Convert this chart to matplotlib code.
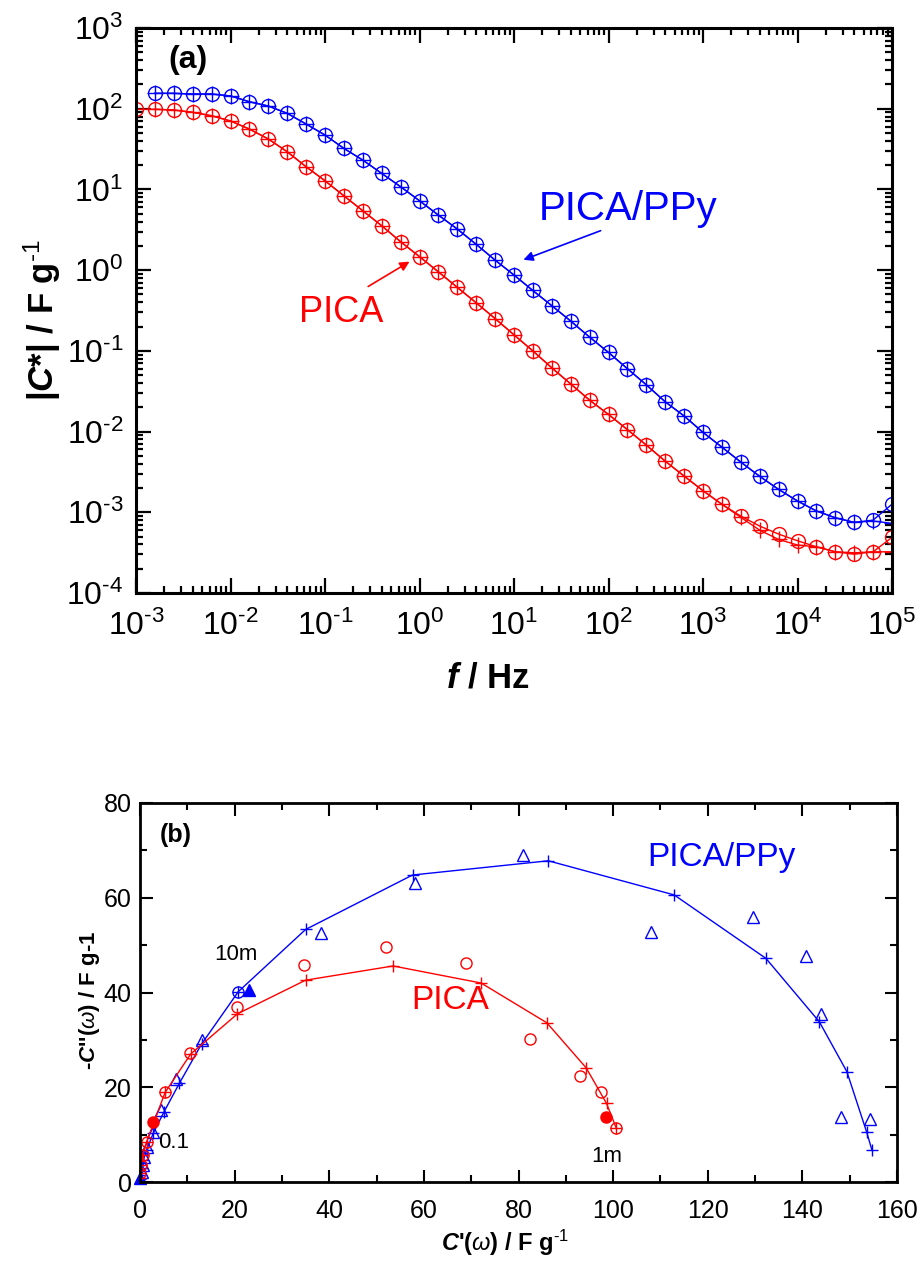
import numpy as np
import matplotlib
matplotlib.use("Agg")
import matplotlib.pyplot as plt
from matplotlib.ticker import LogLocator, FuncFormatter, MultipleLocator, NullFormatter

plt.rcParams['font.family'] = ['Liberation Sans', 'DejaVu Sans']
plt.rcParams['mathtext.fontset'] = 'custom'
plt.rcParams['mathtext.rm'] = 'Liberation Sans'
plt.rcParams['mathtext.it'] = 'Liberation Sans:italic'
plt.rcParams['mathtext.bf'] = 'Liberation Sans:bold'
plt.rcParams['mathtext.bfit'] = 'Liberation Sans:bold:italic'
plt.rcParams['mathtext.default'] = 'regular'
plt.rcParams['axes.unicode_minus'] = False

BLUE = '#0000FF'
RED = '#FF0000'

# ---------------- panel (a): |C*| vs frequency ----------------
freq_red = [1e-3, 1.58e-3, 2.51e-3, 3.98e-3, 6.31e-3, 1e-2, 1.58e-2, 2.51e-2, 3.98e-2, 6.31e-2,
            1e-1, 1.58e-1, 2.51e-1, 3.98e-1, 6.31e-1, 1e0, 1.58e0, 2.51e0, 3.98e0, 6.31e0,
            1e1, 1.58e1, 2.51e1, 3.98e1, 6.31e1, 1e2, 1.58e2, 2.51e2, 3.98e2, 6.31e2,
            1e3, 1.58e3, 2.51e3, 3.98e3, 6.31e3, 1e4, 1.58e4, 2.51e4, 3.98e4, 6.31e4, 1e5]
freq_blue = freq_red[1:]

# measured (circles)
pica_meas = [98.4, 98.4, 96.4, 90.2, 81.8, 70.5, 56.0, 42.2, 29.3, 19.1,
             12.8, 8.36, 5.44, 3.55, 2.25, 1.47, 0.955, 0.612, 0.394, 0.251,
             0.158, 0.100, 0.0617, 0.0389, 0.0245, 0.0163, 0.0106, 0.00681, 0.00430, 0.00281,
             0.00185, 0.00126, 0.000897, 0.000675, 0.000537, 0.000444, 0.000374, 0.000324, 0.000303, 0.000324,
             0.000489]
# fitted (plus)
pica_fit = [None, 98.4, 96.4, 90.2, 81.8, 70.5, 56.0, 42.2, 29.3, 19.1,
            12.8, 8.36, 5.44, 3.55, 2.25, 1.47, 0.955, 0.612, 0.394, 0.251,
            0.158, 0.100, 0.0617, 0.0389, 0.0245, 0.0163, 0.0106, 0.00681, 0.00430, 0.00281,
            0.00185, 0.00126, 0.000865, 0.000601, 0.000461, 0.000393, 0.000374, 0.000324, 0.000315, 0.000324,
            0.000324]

ppy_meas = [155, 155, 152, 152, 144, 122, 108, 87.7, 64.6, 47.2,
            32.3, 23.1, 15.8, 10.8, 7.24, 4.82, 3.23, 2.09, 1.33, 0.87,
            0.56, 0.363, 0.234, 0.148, 0.0955, 0.0603, 0.038, 0.0234, 0.0156, 0.00977,
            0.00643, 0.00419, 0.00279, 0.00192, 0.00138, 0.00104, 0.000855, 0.00075, 0.0008, 0.00126]
ppy_fit = [155, 155, 152, 152, 144, 122, 108, 87.7, 64.6, 47.2,
           32.3, 23.1, 15.8, 10.8, 7.24, 4.82, 3.23, 2.09, 1.33, 0.87,
           0.56, 0.363, 0.234, 0.148, 0.0955, 0.0603, 0.038, 0.0234, 0.0156, 0.00977,
           0.00643, 0.00419, 0.00279, 0.00192, 0.00138, 0.00104, 0.000855, 0.00075, 0.00078, 0.000728]

# ---------------- panel (b): Nyquist of complex capacitance ----------------
ppy_fit_re = [154.7, 153.6, 149.4, 143.6, 132.3, 112.9, 86.3, 57.6, 35.0, 20.8, 13.0, 8.3, 5.07, 2.8, 1.4, 0.7, 0.35, 0.2, 0.1]
ppy_fit_im = [6.75, 10.5, 23.3, 33.8, 47.2, 60.6, 67.8, 64.8, 53.3, 40.2, 29.1, 20.8, 14.8, 10.3, 6.75, 4.6, 2.9, 1.5, 0.6]
ppy_meas_re = [154.2, 148.1, 143.9, 140.7, 129.6, 107.9, 80.9, 58.1, 38.2, 13.0, 7.6, 4.4, 2.7, 1.55, 0.9, 0.57, 0.35]
ppy_meas_im = [13.4, 13.8, 35.4, 47.6, 56.0, 52.8, 69.0, 63.2, 52.6, 30.0, 21.7, 15.2, 10.6, 7.45, 5.3, 3.6, 2.2]
ppy_mark_re = [23.1, 0.0]      # filled triangles (10 mHz, 0.1 Hz)
ppy_mark_im = [40.5, 0.8]
ppy_circ_re = [20.8]
ppy_circ_im = [40.2]

pica_fit_re = [100.7, 98.6, 94.3, 86.0, 72.1, 53.5, 35.0, 20.6, 10.7, 5.3, 1.4, 0.57, 0.2, 0.05, 0.0]
pica_fit_im = [11.3, 16.6, 24.1, 33.6, 42.0, 45.6, 42.6, 35.5, 27.0, 18.9, 8.5, 5.7, 3.5, 1.9, 0.8]
pica_meas_re = [100.7, 97.4, 92.9, 82.4, 68.9, 52.1, 34.7, 20.4, 10.6, 5.3, 1.4, 0.57, 0.2, 0.05]
pica_meas_im = [11.3, 18.9, 22.4, 30.1, 46.2, 49.5, 45.8, 37.0, 27.2, 18.9, 8.5, 5.7, 3.5, 1.9]
pica_mark_re = [98.4, 2.7]     # filled circles (1 mHz, 0.1 Hz)
pica_mark_im = [13.8, 12.7]

W, H = 922, 1263
fig = plt.figure(figsize=(W / 100, H / 100), dpi=100)

def px_axes(l, t, r, b):
    return fig.add_axes([l / W, 1 - b / H, (r - l) / W, (b - t) / H])

def pow10_label(v, pos):
    e = int(round(np.log10(v)))
    return r'10$^{\text{%d}}$' % e

# ---------- top ----------
ax = px_axes(136, 28, 892, 593)
def clean(xs, ys):
    pts = [(x, y) for x, y in zip(xs, ys) if y is not None]
    return [p[0] for p in pts], [p[1] for p in pts]

fx, fy = clean(freq_red, pica_fit)
ax.plot(freq_red, pica_meas, '-', color=RED, lw=1.0, marker='o', ms=10, mfc='none', mec=RED, mew=1.0)
ax.plot(fx, fy, '-', color=RED, lw=1.0, marker='+', ms=11, mec=RED, mew=1.0)
ax.plot(freq_blue, ppy_meas, '-', color=BLUE, lw=1.0, marker='o', ms=10, mfc='none', mec=BLUE, mew=1.0)
ax.plot(freq_blue, ppy_fit, '-', color=BLUE, lw=1.0, marker='+', ms=11, mec=BLUE, mew=1.0)

ax.set_xscale('log')
ax.set_yscale('log')
ax.set_xlim(1e-3, 1e5)
ax.set_ylim(1e-4, 1e3)
for axis in (ax.xaxis, ax.yaxis):
    axis.set_major_locator(LogLocator(base=10, numticks=20))
    axis.set_minor_locator(LogLocator(base=10, subs=np.arange(2, 10), numticks=20))
    axis.set_major_formatter(FuncFormatter(pow10_label))
    axis.set_minor_formatter(NullFormatter())
ax.tick_params(which='both', direction='in', top=True, right=True, width=1.6, labelsize=23)
ax.tick_params(which='major', length=11)
ax.tick_params(which='minor', length=5)
ax.tick_params(axis='x', pad=13)
ax.tick_params(axis='y', pad=9)
for s in ax.spines.values():
    s.set_linewidth(2.2)

ax.text(0.069, 0.943, '(a)', transform=ax.transAxes, ha='center', va='center', fontsize=23, fontweight='bold')
ax.text(0.651, 0.680, 'PICA/PPy', transform=ax.transAxes, ha='center', va='center', fontsize=29, color=BLUE)
ax.text(0.271, 0.496, 'PICA', transform=ax.transAxes, ha='center', va='center', fontsize=26, color=RED)
ax.annotate('', xy=(0.509, 0.588), xytext=(0.618, 0.643), xycoords='axes fraction',
            arrowprops=dict(arrowstyle='-|>', color=BLUE, lw=1.2, mutation_scale=14))
ax.annotate('', xy=(0.365, 0.589), xytext=(0.304, 0.540), xycoords='axes fraction',
            arrowprops=dict(arrowstyle='-|>', color=RED, lw=1.2, mutation_scale=14))

fig.text(42 / W, 1 - 320 / H, r'|$\mathbfit{C}$*| / F g$^{\text{-1}}$', rotation=90, ha='center', va='center',
         fontsize=25, fontweight='bold')
fig.text(488 / W, 1 - 678 / H, r'$\mathbfit{f}$ / Hz', ha='center', va='center', fontsize=25, fontweight='bold')

# ---------- bottom ----------
bx = px_axes(140, 803, 897, 1182)
bx.plot(ppy_fit_re, ppy_fit_im, '-', color=BLUE, lw=1.0, marker='+', ms=9, mec=BLUE, mew=1.0)
bx.plot(ppy_meas_re, ppy_meas_im, ls='none', marker='^', ms=9, mfc='none', mec=BLUE, mew=1.0)
bx.plot(ppy_circ_re, ppy_circ_im, ls='none', marker='o', ms=8, mfc='none', mec=BLUE, mew=1.0)
bx.plot(ppy_mark_re, ppy_mark_im, ls='none', marker='^', ms=9, mfc=BLUE, mec=BLUE, mew=1.0, clip_on=False)
bx.plot(pica_fit_re, pica_fit_im, '-', color=RED, lw=1.0, marker='+', ms=9, mec=RED, mew=1.0)
bx.plot(pica_meas_re, pica_meas_im, ls='none', marker='o', ms=8, mfc='none', mec=RED, mew=1.0)
bx.plot(pica_mark_re, pica_mark_im, ls='none', marker='o', ms=8, mfc=RED, mec=RED, mew=1.0)

bx.set_xlim(0, 160)
bx.set_ylim(0, 80)
bx.xaxis.set_major_locator(MultipleLocator(20))
bx.xaxis.set_minor_locator(MultipleLocator(10))
bx.yaxis.set_major_locator(MultipleLocator(20))
bx.yaxis.set_minor_locator(MultipleLocator(10))
bx.tick_params(which='both', direction='in', top=True, right=True, width=1.5, labelsize=18)
bx.tick_params(which='major', length=9)
bx.tick_params(which='minor', length=5)
bx.tick_params(axis='x', pad=12)
bx.tick_params(axis='y', pad=6)
for s in bx.spines.values():
    s.set_linewidth(2.0)

bx.text(7.6, 73.2, '(b)', ha='center', va='center', fontsize=18, fontweight='bold')
bx.text(122.8, 68.6, 'PICA/PPy', ha='center', va='center', fontsize=24, color=BLUE)
bx.text(65.5, 38.4, 'PICA', ha='center', va='center', fontsize=24, color=RED)
bx.text(20.3, 48.1, '10m', ha='center', va='center', fontsize=16)
bx.text(7.2, 8.4, '0.1', ha='center', va='center', fontsize=16)
bx.text(98.7, 5.3, '1m', ha='center', va='center', fontsize=16)

fig.text(89 / W, 1 - 1000 / H, r"-$\mathbfit{C}$''($\mathit{\omega}$) / F g-1", rotation=90, ha='center',
         va='center', fontsize=16, fontweight='bold')
fig.text(505 / W, 1 - 1243 / H, r"$\mathbfit{C}$'($\mathit{\omega}$) / F g$^{\text{-1}}$", ha='center', va='center',
         fontsize=17, fontweight='bold')

fig.savefig('out.png', dpi=100)
